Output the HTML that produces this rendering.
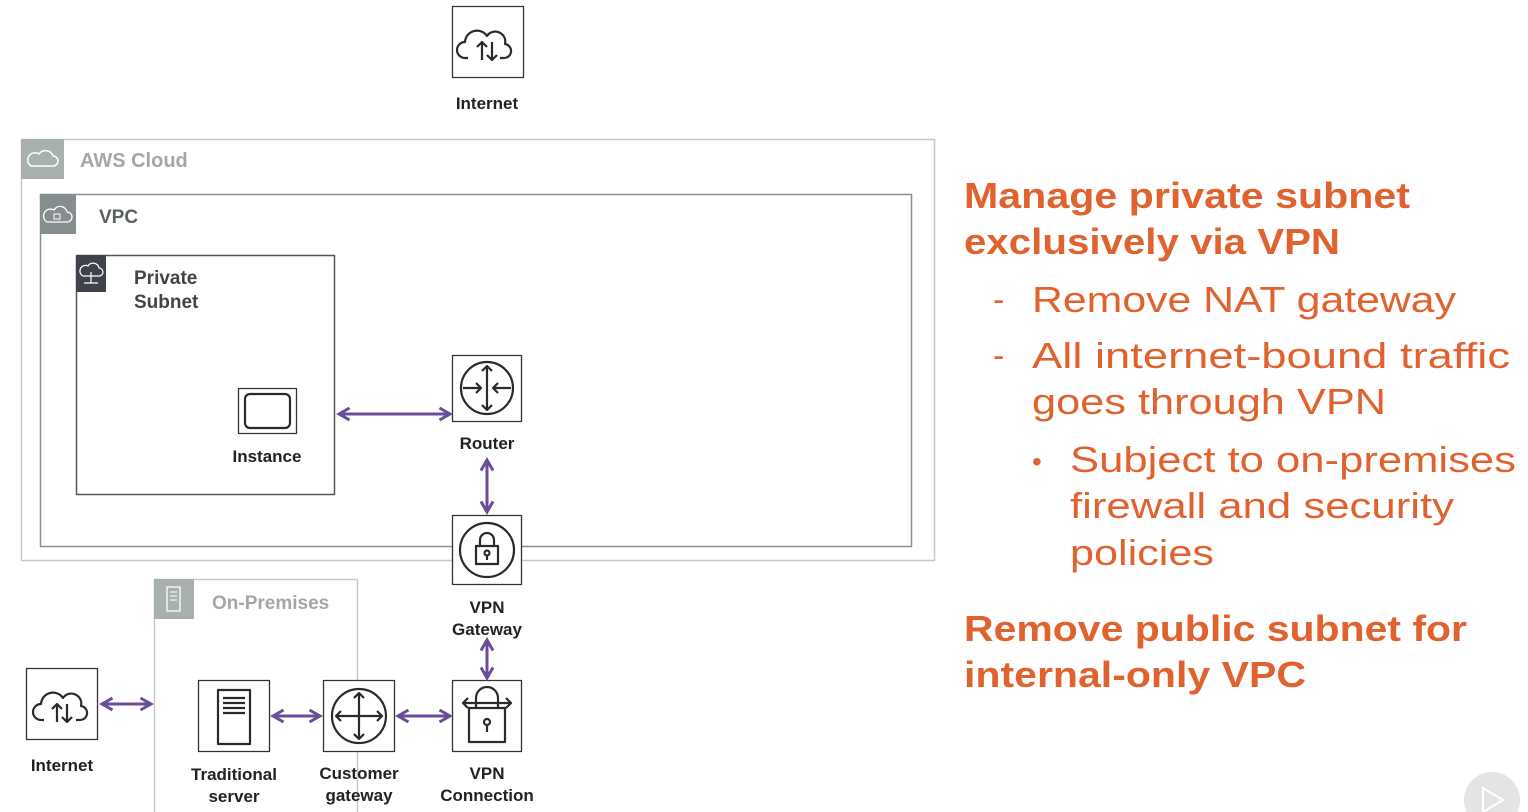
<!DOCTYPE html>
<html><head><meta charset="utf-8"><style>
html,body{margin:0;padding:0;background:#fff;}
svg{display:block;font-family:"Liberation Sans",sans-serif;}
</style></head><body>
<svg width="1528" height="812" viewBox="0 0 1528 812" xmlns="http://www.w3.org/2000/svg">
<defs>
<marker id="ah" viewBox="0 0 10 10" refX="8" refY="5" markerWidth="5" markerHeight="5" orient="auto-start-reverse">
<path d="M1,1 L8,5 L1,9" fill="none" stroke="#6a4c99" stroke-width="2"/>
</marker>
</defs>
<g fill="none" stroke-linejoin="round">
<rect x="21.5" y="139.5" width="913" height="421" stroke="#c8c8c8" stroke-width="1.5"/>
<rect x="21" y="139" width="43" height="40" fill="#a9b1af" stroke="none"/>
<path d="M31,166 h22 a5,5 0 0 0 0,-10 a8,8 0 0 0 -14,-2 a5,5 0 0 0 -8,12z" stroke="#fff" stroke-width="1.5"/>
<rect x="40.5" y="194.5" width="871" height="352" stroke="#8a8f90" stroke-width="1.5"/>
<rect x="40" y="194" width="36" height="40" fill="#868d8e" stroke="none"/>
<path d="M47,222 h20 a5,5 0 0 0 0,-10 a7,7 0 0 0 -13,-2 a5,5 0 0 0 -7,12z" stroke="#fff" stroke-width="1.3"/>
<rect x="54" y="214" width="6" height="5" stroke="#fff" stroke-width="1"/>
<rect x="76.5" y="255.5" width="258" height="239" stroke="#555" stroke-width="1.5"/>
<rect x="76" y="255" width="30" height="37" fill="#3e434b" stroke="none"/>
<path d="M83,276 h16 a4,4 0 0 0 0,-8 a6,6 0 0 0 -11,-2 a4,4 0 0 0 -5,10z" stroke="#fff" stroke-width="1.2"/>
<path d="M91,272 v11 M84,283 h14" stroke="#fff" stroke-width="1.2"/>
<path d="M154.5,812 V579.5 H357.5 V680" stroke="#c8c8c8" stroke-width="1.5"/>
<path d="M357.5,752 V812" stroke="#c8c8c8" stroke-width="1.5"/>
<rect x="154" y="579" width="40" height="40" fill="#a9b1af" stroke="none"/>
<rect x="167" y="587" width="13" height="24" stroke="#fff" stroke-width="1.3"/>
<path d="M170,592 h7 M170,596 h7 M170,600 h7" stroke="#fff" stroke-width="1"/>
<g stroke="#333" stroke-width="1.3" fill="#fff">
<rect x="452.5" y="6.5" width="71" height="71"/>
<rect x="238.5" y="388.5" width="58" height="45"/>
<rect x="452.5" y="355.5" width="69" height="66"/>
<rect x="452.5" y="515.5" width="69" height="69"/>
<rect x="26.5" y="668.5" width="71" height="71"/>
<rect x="198.5" y="680.5" width="71" height="71"/>
<rect x="323.5" y="680.5" width="71" height="71"/>
<rect x="452.5" y="680.5" width="69" height="71"/>
</g>
<g stroke="#2a2a2a" stroke-width="2.2">
<path d="M468,58 h-3 a8,8 0 0 1 0,-16 a12,12 0 0 1 22,-6 a10,10 0 0 1 18,8 a7,7 0 0 1 -2,14 h-3"/>
<path d="M482,60 v-18 m-5,5 l5,-5 l5,5 M492,42 v18 m-5,-5 l5,5 l5,-5"/>
<path d="M44,720 h-3 a8,8 0 0 1 0,-16 a12,12 0 0 1 22,-6 a10,10 0 0 1 18,8 a7,7 0 0 1 -2,14 h-3"/>
<path d="M57,722 v-18 m-5,5 l5,-5 l5,5 M67,704 v18 m-5,-5 l5,5 l5,-5"/>
<rect x="245" y="394" width="45" height="34" rx="5"/>
<circle cx="487" cy="388" r="26"/>
<path d="M487,366 v44 m-5,-39 l5,-5 l5,5 m-10,34 l5,5 l5,-5 M463,388 h18 m-5,-5 l5,5 l-5,5 M511,388 h-18 m5,-5 l-5,5 l5,5"/>
<circle cx="487" cy="550" r="27"/>
<rect x="476" y="546" width="22" height="18"/>
<path d="M480,546 v-6 a7,7 0 0 1 14,0 v6"/>
<circle cx="487" cy="553" r="2.5"/><path d="M487,556 v4"/>
<rect x="218" y="690" width="32" height="54"/>
<path d="M223,698 h22 M223,703 h22 M223,708 h22 M223,713 h22"/>
<circle cx="359" cy="716" r="27"/>
<path d="M359,693 v46 m-5,-41 l5,-5 l5,5 m-10,36 l5,5 l5,-5 M336,716 h46 m-41,-5 l-5,5 l5,5 m36,-10 l5,5 l-5,5"/>
<rect x="469" y="708" width="36" height="34"/>
<path d="M476,708 v-10 a11,11 0 0 1 22,0 v10"/>
<path d="M463,703 h48 m-43,-5 l-5,5 l5,5 m38,-10 l5,5 l-5,5"/>
<circle cx="487" cy="722" r="3"/><path d="M487,725 v7"/>
</g>
<g stroke="#6a4c99" stroke-width="3" marker-start="url(#ah)" marker-end="url(#ah)">
<path d="M339,414 H450"/>
<path d="M487,460 V512"/>
<path d="M487,640 V678"/>
<path d="M102,704 H151"/>
<path d="M273,716 H320"/>
<path d="M398,716 H450"/>
</g>
</g>
<g font-size="17" font-weight="bold" fill="#222" text-anchor="middle">
<text x="487" y="109">Internet</text>
<text x="267" y="462">Instance</text>
<text x="487" y="449">Router</text>
<text x="487" y="613">VPN</text>
<text x="487" y="635">Gateway</text>
<text x="62" y="771">Internet</text>
<text x="234" y="780">Traditional</text>
<text x="234" y="802">server</text>
<text x="359" y="779">Customer</text>
<text x="359" y="801">gateway</text>
<text x="487" y="779">VPN</text>
<text x="487" y="801">Connection</text>
</g>
<text x="80" y="167" font-size="20" font-weight="bold" fill="#a3a8a7">AWS Cloud</text>
<text x="99" y="223" font-size="19" font-weight="bold" fill="#5a5f60">VPC</text>
<text x="134" y="284" font-size="19" font-weight="bold" fill="#444">Private</text>
<text x="134" y="308" font-size="19" font-weight="bold" fill="#444">Subnet</text>
<text x="212" y="609" font-size="19" font-weight="bold" fill="#a3a8a7">On-Premises</text>
<g fill="#e0622f">
<text x="964" y="208" font-size="36" font-weight="bold" textLength="446" lengthAdjust="spacingAndGlyphs">Manage private subnet</text>
<text x="964" y="254" font-size="36" font-weight="bold" textLength="376" lengthAdjust="spacingAndGlyphs">exclusively via VPN</text>
<text x="993" y="311" font-size="34">-</text>
<text x="1032" y="312" font-size="36" textLength="424" lengthAdjust="spacingAndGlyphs">Remove NAT gateway</text>
<text x="993" y="367" font-size="34">-</text>
<text x="1032" y="368" font-size="36" textLength="478" lengthAdjust="spacingAndGlyphs">All internet-bound traffic</text>
<text x="1032" y="414" font-size="36" textLength="354" lengthAdjust="spacingAndGlyphs">goes through VPN</text>
<text x="1032" y="471" font-size="28">•</text>
<text x="1070" y="472" font-size="36" textLength="446" lengthAdjust="spacingAndGlyphs">Subject to on-premises</text>
<text x="1070" y="518" font-size="36" textLength="384" lengthAdjust="spacingAndGlyphs">firewall and security</text>
<text x="1070" y="565" font-size="36" textLength="144" lengthAdjust="spacingAndGlyphs">policies</text>
<text x="964" y="641" font-size="36" font-weight="bold" textLength="503" lengthAdjust="spacingAndGlyphs">Remove public subnet for</text>
<text x="964" y="687" font-size="36" font-weight="bold" textLength="342" lengthAdjust="spacingAndGlyphs">internal-only VPC</text>
</g>
<circle cx="1492" cy="800" r="28" fill="#e4e4e4"/>
<path d="M1483,788 L1503,800 L1483,812 Z" fill="none" stroke="#fff" stroke-width="2"/>
</svg>
</body></html>
